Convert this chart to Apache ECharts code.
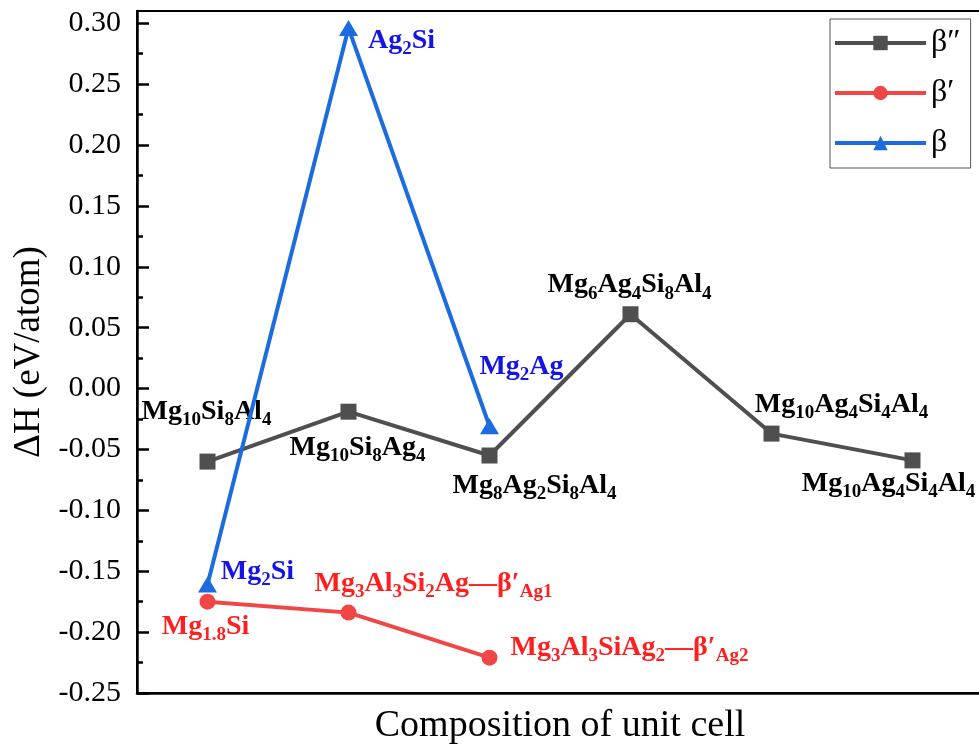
<!DOCTYPE html>
<html>
<head>
<meta charset="utf-8">
<title>Formation enthalpy of precipitate phases</title>
<script src="https://cdn.jsdelivr.net/npm/echarts@6/dist/echarts.min.js"></script>
<style>
  html, body { margin: 0; padding: 0; background: #fff; }
  #chart { width: 979px; height: 749px; }
</style>
</head>
<body>
<div id="chart"></div>
<script>
// Compositions along the x axis (one slot per unit cell)
const categories = ['C1', 'C2', 'C3', 'C4', 'C5', 'C6'];

// Formation enthalpy, eV/atom
const betaDoublePrime = [-0.060, -0.019, -0.055, 0.061, -0.037, -0.059];
const betaPrime = [-0.175, -0.184, -0.221];
const beta = [-0.161, 0.296, -0.031];

// Point labels; _{..} marks a subscript
const betaDoublePrimeLabels = [
  'Mg_{10}Si_{8}Al_{4}', 'Mg_{10}Si_{8}Ag_{4}', 'Mg_{8}Ag_{2}Si_{8}Al_{4}',
  'Mg_{6}Ag_{4}Si_{8}Al_{4}', 'Mg_{10}Ag_{4}Si_{4}Al_{4}', 'Mg_{10}Ag_{4}Si_{4}Al_{4}'
];
const betaPrimeLabels = [
  'Mg_{1.8}Si', 'Mg_{3}Al_{3}Si_{2}Ag—β′_{Ag1}', 'Mg_{3}Al_{3}SiAg_{2}—β′_{Ag2}'
];
const betaLabels = ['Mg_{2}Si', 'Ag_{2}Si', 'Mg_{2}Ag'];

// Y axis ticks
const yMajorTicks = [-0.25, -0.20, -0.15, -0.10, -0.05, 0.00, 0.05, 0.10, 0.15, 0.20, 0.25, 0.30];
const yMinorTicks = [-0.225, -0.175, -0.125, -0.075, -0.025, 0.025, 0.075, 0.125, 0.175, 0.225, 0.275];

// Label offsets from each point (px)
const betaDoublePrimeOffsets = [[-1, -50], [9, 36], [45, 30], [-1, -29], [70, -29], [-24, 23]];
const betaPrimeOffsets = [[-2, 25], [85, -29], [140, -10]];
const betaOffsets = [[50, -13], [53, 13], [32, -60]];

const SERIF = '"Liberation Serif", "Times New Roman", serif';

function toRich(str) {
  const parts = str.split(/_\{([^}]*)\}/);
  let out = '';
  parts.forEach((p, i) => {
    if (!p) return;
    out += (i % 2 === 0 ? '{m|' : '{s|') + p + '}';
  });
  return out;
}

function richStyles(color) {
  return {
    m: { fontSize: 28, fontWeight: 'bold', fontFamily: SERIF, color: color, lineHeight: 36 },
    s: { fontSize: 19, fontWeight: 'bold', fontFamily: SERIF, color: color, verticalAlign: 'bottom' }
  };
}

function buildData(values, labels, offsets, color) {
  return values.map((v, i) => ({
    value: v,
    label: {
      show: true,
      position: 'inside',
      align: 'center',
      verticalAlign: 'middle',
      offset: offsets[i],
      formatter: toRich(labels[i]),
      rich: richStyles(color)
    }
  }));
}

const colors = { gray: '#4f4f4f', red: '#f24646', blue: '#1c6ce0' };

const chart = echarts.init(document.getElementById('chart'), null, { renderer: 'canvas' });

chart.setOption({
  animation: false,
  backgroundColor: '#fff',
  grid: {
    left: 137, top: 11, width: 846, height: 682,
    outerBoundsMode: 'none',
    containLabel: false,
    show: true, borderColor: '#000', borderWidth: 2, backgroundColor: 'transparent'
  },
  legend: {
    orient: 'vertical',
    left: 830, top: 19,
    padding: [8, 10, 9, 3],
    itemWidth: 91, itemHeight: 18, itemGap: 18,
    borderColor: '#555', borderWidth: 1,
    lineStyle: { width: 4 },
    textStyle: { fontSize: 32, fontFamily: SERIF, color: '#000' },
    data: ['β″', 'β′', 'β']
  },
  xAxis: {
    type: 'category',
    data: categories,
    boundaryGap: true,
    name: 'Composition of unit cell',
    nameLocation: 'middle',
    nameGap: 14,
    nameTextStyle: { fontSize: 38, fontFamily: SERIF, color: '#000' },
    axisLine: { onZero: false, lineStyle: { color: '#000', width: 2.5 } },
    axisTick: { inside: true, alignWithLabel: true, length: 12, lineStyle: { color: '#000', width: 2.5 } },
    axisLabel: { show: false },
    splitLine: { show: false }
  },
  yAxis: [{
    type: 'value',
    min: -0.25, max: 0.31,
    position: 'left',
    name: 'ΔH (eV/atom)',
    nameLocation: 'middle',
    nameGap: 89,
    nameTextStyle: { fontSize: 37, fontFamily: SERIF, color: '#000' },
    axisLine: { show: true, onZero: false, lineStyle: { color: '#000', width: 2.5 } },
    axisTick: { show: true, inside: true, length: 12, customValues: yMajorTicks, lineStyle: { color: '#000', width: 2.5 } },
    axisLabel: {
      customValues: yMajorTicks,
      formatter: v => v.toFixed(2),
      fontSize: 30, fontFamily: SERIF, color: '#000', margin: 16
    },
    splitLine: { show: false }
  }, {
    type: 'value',
    min: -0.25, max: 0.31,
    position: 'left',
    axisLine: { show: false, onZero: false },
    axisTick: { show: true, inside: true, length: 6, customValues: yMinorTicks, lineStyle: { color: '#000', width: 2.5 } },
    axisLabel: { show: false },
    splitLine: { show: false }
  }],
  series: [{
    name: 'β″',
    type: 'line',
    data: buildData(betaDoublePrime, betaDoublePrimeLabels, betaDoublePrimeOffsets, '#000'),
    symbol: 'rect', symbolSize: 16,
    itemStyle: { color: colors.gray },
    lineStyle: { color: colors.gray, width: 4 },
    z: 2
  }, {
    name: 'β′',
    type: 'line',
    data: buildData(betaPrime, betaPrimeLabels, betaPrimeOffsets, '#ff1f1f'),
    symbol: 'circle', symbolSize: 16,
    itemStyle: { color: colors.red },
    lineStyle: { color: colors.red, width: 4 },
    z: 3
  }, {
    name: 'β',
    type: 'line',
    data: buildData(beta, betaLabels, betaOffsets, '#1414e6'),
    symbol: 'triangle', symbolSize: [19, 16],
    itemStyle: { color: colors.blue },
    lineStyle: { color: colors.blue, width: 4 },
    z: 4
  }]
});
</script>
</body>
</html>
